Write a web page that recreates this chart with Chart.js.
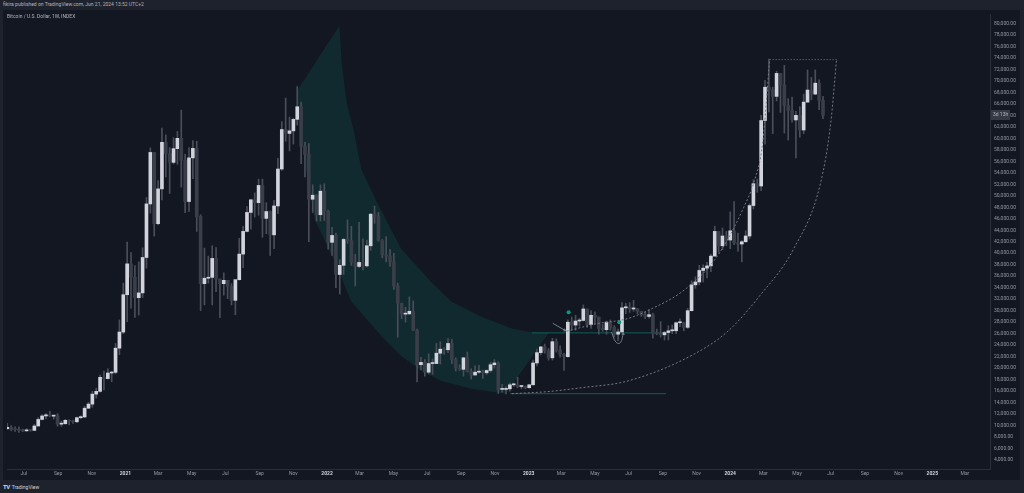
<!DOCTYPE html>
<html>
<head>
<meta charset="utf-8">
<script src="https://cdn.jsdelivr.net/npm/chart.js@4.4.1/dist/chart.umd.min.js"></script>
<style>
  html, body { margin: 0; padding: 0; width: 1024px; height: 493px; overflow: hidden; background: #1e222d; font-family: Roboto, 'Liberation Sans', sans-serif; }
  #head { position: absolute; left: 3px; top: 1px; font-size: 5px; line-height: 7px; color: #b2b5be; white-space: nowrap; }
  #panel { position: absolute; left: 3px; top: 10px; width: 1017px; height: 470px; background: #131722; }
  #title { position: absolute; left: 7px; top: 13px; font-size: 5px; line-height: 7px; color: #b2b5be; white-space: nowrap; z-index: 2; }
  #foot { position: absolute; left: 3px; top: 483px; font-size: 5px; line-height: 7px; color: #d1d4dc; white-space: nowrap; }
  #foot b { font-size: 6px; letter-spacing: -0.5px; margin-right: 2px; }
  canvas { position: absolute; left: 0; top: 0; }
</style>
</head>
<body>
<div id="head">fikira published on TradingView.com, Jun 21, 2024 13:52 UTC+2</div>
<div id="panel"><canvas id="btc" width="1017" height="470"></canvas></div>
<div id="title">Bitcoin / U.S. Dollar, 1W, INDEX</div>
<div id="foot"><b>TV</b>TradingView</div>
<script>
// weekly candles, first one = week of 2020-06-01
const firstWeek = '2020-06-01'

const opens = [
  9450, 9700, 9350, 9300, 9180, 9080, 9250, 9170, 9930, 11070,
  11680, 11870, 11650, 11700, 10250, 10330, 10920, 10770, 10670, 11380,
  11500, 13030, 13740, 15480, 15960, 18400, 18180, 19150, 19270, 23480,
  26280, 32780, 38150, 35830, 32260, 33100, 39260, 48580, 57540, 45140,
  51200, 59300, 57350, 55820, 58200, 60000, 56200, 49000, 56600, 58250,
  46400, 34700, 35650, 35800, 39100, 35500, 34700, 35290, 34250, 31800,
  35400, 39850, 43800, 47100, 49300, 48800, 51800, 46060, 47260, 43200,
  48230, 54660, 61530, 60850, 61300, 63300, 65500, 58600, 57200, 49400,
  50100, 46700, 50800, 47300, 41900, 43100, 36300, 37900, 42400, 42200,
  38400, 37700, 38400, 37800, 41300, 46800, 46400, 42200, 39700, 39500,
  38500, 34300, 31300, 29400, 29450, 29900, 26600, 20600, 21000, 19300,
  20800, 20800, 22600, 23300, 23200, 24300, 21500, 20000, 19800, 21800,
  19400, 18800, 19300, 19400, 19200, 19600, 20600, 20900, 16300, 16300,
  16400, 17100, 17100, 16800, 16800, 16600, 17100, 20900, 22700, 23700,
  23000, 21800, 24600, 23100, 22400, 22000, 28000, 27500, 28200, 28300,
  30300, 27600, 29200, 28900, 26900, 26700, 28000, 27100, 25900, 26300,
  30500, 30600, 30300, 30300, 29900, 29300, 29000, 29300, 26100, 26000,
  25800, 26200, 26500, 26500, 27900, 27900, 27100, 30000, 34500, 35000,
  37000, 37400, 37800, 39500, 43800, 41300, 43000, 42300, 43900, 41800,
  41600, 42000, 43000, 48300, 52100, 51700, 63100, 68900, 68400, 67300,
  71300, 69300, 65700, 64900, 63200, 64000, 61450, 66300, 68400, 67700,
  69600, 66600
]
const highs = [
  10380, 9990, 9800, 9780, 9400, 9450, 9350, 10200, 11400, 11900,
  12100, 12480, 11800, 12090, 10800, 11100, 10990, 10950, 11490, 11720,
  13350, 14090, 15970, 16500, 18800, 19480, 19900, 19420, 24300, 28400,
  34800, 41950, 40100, 37850, 38500, 40950, 49700, 58350, 57540, 52640,
  61800, 60600, 58400, 60100, 61200, 64900, 57200, 58400, 59600, 59500,
  46700, 40900, 39500, 41300, 41000, 35500, 36600, 35290, 34700, 35400,
  42600, 44700, 48100, 49400, 50500, 52900, 52900, 48800, 47350, 49200,
  56500, 62900, 67000, 63700, 63500, 69000, 66300, 59300, 59100, 51900,
  50200, 51900, 52100, 47500, 44500, 43500, 38900, 42600, 45800, 44700,
  39800, 45400, 42500, 42300, 46900, 48200, 47100, 42400, 42900, 40700,
  40000, 34800, 31300, 30600, 32400, 31700, 26800, 21900, 21500, 22500,
  21600, 24300, 24600, 23600, 25200, 25000, 21800, 20600, 21900, 22800,
  19900, 20400, 20500, 19700, 19700, 21000, 21500, 21100, 17200, 16800,
  17400, 17400, 18400, 17000, 16900, 17200, 21400, 23300, 23800, 24200,
  23400, 25200, 25100, 23900, 22600, 28400, 28900, 29200, 28700, 31000,
  30300, 30000, 29800, 28900, 27600, 28200, 28400, 27400, 26800, 31400,
  31300, 31400, 31800, 30400, 29900, 29700, 30200, 29600, 26800, 28100,
  26400, 27400, 27500, 28000, 28600, 28000, 30400, 35200, 35900, 37900,
  38000, 38400, 39800, 44700, 43800, 44400, 43800, 47200, 49000, 43500,
  42200, 43900, 48600, 52800, 52900, 64000, 70100, 73800, 68900, 71700,
  71300, 72700, 66900, 67200, 64700, 65500, 67700, 71900, 70600, 71900,
  70200, 67300
]
const lows = [
  9400, 9100, 9000, 8830, 8950, 9050, 9020, 9130, 9930, 11000,
  11150, 11550, 11150, 9880, 9880, 10230, 10140, 10370, 10530, 11200,
  11400, 12960, 13200, 14800, 15800, 16200, 18100, 17620, 19000, 22350,
  26000, 28100, 30420, 28850, 29240, 32300, 37400, 47000, 43000, 44950,
  49300, 53270, 50400, 55550, 55500, 51500, 47050, 47300, 53000, 43800,
  30000, 31000, 34800, 31000, 33300, 28800, 32700, 32100, 31000, 29300,
  35300, 37500, 43700, 44200, 46300, 46600, 42800, 43400, 39600, 40800,
  46900, 54400, 59500, 57800, 59000, 62300, 55600, 53300, 42000, 47100,
  45600, 45600, 45700, 40700, 39600, 34000, 32900, 36300, 41700, 37900,
  34300, 37500, 37100, 37600, 40500, 45200, 42100, 39200, 38500, 37700,
  33700, 25400, 28600, 28000, 29300, 26500, 17600, 19700, 18600, 19000,
  18900, 20800, 20700, 22400, 22700, 20800, 19500, 19600, 18600, 19300,
  18100, 18800, 19100, 18200, 18900, 19300, 20000, 15600, 15800, 15500,
  16000, 16800, 16600, 16400, 16400, 16500, 17100, 20400, 22300, 22600,
  21400, 21400, 22800, 21900, 19600, 21900, 26600, 26600, 27300, 28200,
  27100, 26900, 27700, 25900, 26400, 25900, 26600, 25400, 24800, 26300,
  29500, 29700, 29900, 29500, 29000, 28600, 28700, 25200, 25800, 25400,
  24900, 24900, 26000, 26000, 27200, 26500, 26900, 29900, 33900, 34500,
  35000, 35700, 36800, 39500, 40200, 40600, 41300, 40800, 41500, 40300,
  38500, 41900, 42500, 47700, 50600, 50900, 59000, 64600, 60800, 66500,
  64500, 60900, 59700, 62800, 56600, 60200, 60800, 66300, 66700, 67600,
  65000, 63400
]
const closes = [
  9700, 9350, 9300, 9180, 9080, 9250, 9170, 9930, 11070, 11680,
  11870, 11650, 11700, 10250, 10330, 10920, 10770, 10670, 11380, 11500,
  13030, 13740, 15480, 15960, 18400, 18180, 19150, 19270, 23480, 26280,
  32780, 38150, 35830, 32260, 33100, 39260, 48580, 57540, 45140, 51200,
  59300, 57350, 55820, 58200, 60000, 56200, 49000, 56600, 58250, 46400,
  34700, 35650, 35800, 39100, 35500, 34700, 35290, 34250, 31800, 35400,
  39850, 43800, 47100, 49300, 48800, 51800, 46060, 47260, 43200, 48230,
  54660, 61530, 60850, 61300, 63300, 65500, 58600, 57200, 49400, 50100,
  46700, 50800, 47300, 41900, 43100, 36300, 37900, 42400, 42200, 38400,
  37700, 38400, 37800, 41300, 46800, 46400, 42200, 39700, 39500, 38500,
  34300, 31300, 29400, 29450, 29900, 26600, 20600, 21000, 19300, 20800,
  20800, 22600, 23300, 23200, 24300, 21500, 20000, 19800, 21800, 19400,
  18800, 19300, 19400, 19200, 19600, 20600, 20900, 16300, 16300, 16400,
  17100, 17100, 16800, 16800, 16600, 17100, 20900, 22700, 23700, 23000,
  21800, 24600, 23100, 22400, 22000, 28000, 27500, 28200, 28300, 30300,
  27600, 29200, 28900, 26900, 26700, 28000, 27100, 25900, 26300, 30500,
  30600, 30300, 30300, 29900, 29300, 29000, 29300, 26100, 26000, 25800,
  26200, 26500, 26500, 27900, 27900, 27100, 30000, 34500, 35000, 37000,
  37400, 37800, 39500, 43800, 41300, 43000, 42300, 43900, 41800, 41600,
  42000, 43000, 48300, 52100, 51700, 63100, 68900, 68400, 67300, 71300,
  69300, 65700, 64900, 63200, 64000, 61450, 66300, 68400, 67700, 69600,
  66600, 64000
]

const tickDates = [
  '2020-07-01', '2020-09-01', '2020-11-01', '2021-01-01', '2021-03-01', '2021-05-01',
  '2021-07-01', '2021-09-01', '2021-11-01', '2022-01-01', '2022-03-01', '2022-05-01',
  '2022-07-01', '2022-09-01', '2022-11-01', '2023-01-01', '2023-03-01', '2023-05-01',
  '2023-07-01', '2023-09-01', '2023-11-01', '2024-01-01', '2024-03-01', '2024-05-01',
  '2024-07-01', '2024-09-01', '2024-11-01', '2025-01-01', '2025-03-01'
]
const tickLabels = [
  'Jul', 'Sep', 'Nov', '2021', 'Mar', 'May', 'Jul', 'Sep', 'Nov', '2022', 'Mar', 'May',
  'Jul', 'Sep', 'Nov', '2023', 'Mar', 'May', 'Jul', 'Sep', 'Nov', '2024', 'Mar', 'May',
  'Jul', 'Sep', 'Nov', '2025', 'Mar'
]
const priceTicks = [
  4000, 6000, 8000, 10000, 12000, 14000, 16000, 18000, 20000, 22000,
  24000, 26000, 28000, 30000, 32000, 34000, 36000, 38000, 40000, 42000,
  44000, 46000, 48000, 50000, 52000, 54000, 56000, 58000, 60000, 62000,
  64000, 66000, 68000, 70000, 72000, 74000, 76000, 78000, 80000
]

// drawings, in [week, price]
const bandShape = [
  [85.9, 79600], [86.5, 73000], [87.8, 66100], [89.6, 61450], [91.6, 54550],
  [96.0, 48350], [101.9, 40750], [109.6, 35050], [114.8, 31600], [122.5, 29000],
  [130.3, 26950], [135.4, 26250], [140.0, 26100], [129.0, 15560],
  [120.0, 16420], [112.2, 17800], [107.1, 19530], [101.9, 22120], [96.8, 25570],
  [89.0, 31600], [83.9, 39700], [79.5, 45900], [77.4, 54000], [76.2, 59700],
  [74.9, 68200], [85.9, 79600]
]
const outerArc = [
  [130.5, 15560], [139.5, 15900], [148.5, 16590], [160.7, 17800], [177.7, 22460],
  [186.4, 26430], [194.9, 32810], [203.4, 40750], [210.4, 52310], [213.0, 62660],
  [214.5, 73700]
]
const innerArc = [
  [144.7, 26430], [151.9, 27650], [160.7, 28670], [167.4, 30570], [173.5, 32810],
  [177.7, 35060], [182.0, 37990], [186.4, 42480], [190.5, 48000], [193.1, 52310],
  [195.4, 59210], [197.2, 73700]
]
const topLine = [[197.2, 73700], [214.5, 73700]]
const rangeTop = [[135.7, 26140], [169.7, 26140]]
const rangeLow = [[130.0, 15560], [170.4, 15560]]
const signalDots = [[145.2, 29710], [158.3, 27990]]
const arrowA = [[141.1, 27810], [144.2, 26600]]
const arrowB = [[156.3, 26300], [157.0, 25000], [158.0, 24300], [158.9, 24800], [159.3, 26000]]
const countdown = '3d 13h'

const FONT = 'Roboto, "Liberation Sans", sans-serif'
const UP = '#d1d4dc'
const DOWN = '#3a3e49'
const WICK = '#4a4e59'
const TEAL = '#089981'
const GREY = '#787b86'

const weekOf = d => (Date.parse(d) - Date.parse(firstWeek)) / (7 * 864e5)
const tickWeeks = tickDates.map(weekOf)
const pts = arr => arr.map(p => ({ x: p[0], y: p[1] }))
const noPad = s => {
  s.paddingLeft = 0
  s.paddingRight = 0
  s.paddingTop = 0
  s.paddingBottom = 0
}

const isUp = opens.map((o, i) => closes[i] >= o)
const wickData = opens.map((o, i) => ({ x: i, y: [lows[i], highs[i]] }))
const bodyData = opens.map((o, i) => ({ x: i, y: [Math.min(o, closes[i]), Math.max(o, closes[i])] }))

const countdownBox = {
  id: 'countdownBox',
  afterDraw(chart) {
    const c = chart.ctx
    const y = Math.round(chart.scales.y.getPixelForValue(closes[closes.length - 1]))
    const x = chart.scales.y.left + 1
    c.save()
    c.fillStyle = '#363a45'
    c.fillRect(x, y - 5, 19, 10)
    c.fillStyle = '#b2b5be'
    c.font = '5px ' + FONT
    c.textBaseline = 'middle'
    c.fillText(countdown, x + 2, y)
    c.restore()
  },
}

new Chart(document.getElementById('btc'), {
  type: 'bar',
  data: {
    datasets: [
      {
        type: 'line',
        data: pts(signalDots),
        showLine: false,
        pointRadius: 2,
        pointBackgroundColor: TEAL,
        pointBorderWidth: 0,
        order: 1,
      },
      {
        type: 'line',
        data: pts(arrowA),
        borderColor: GREY,
        borderWidth: 1,
        pointRadius: [0, 2],
        pointStyle: 'triangle',
        rotation: [0, 120],
        pointBackgroundColor: GREY,
        pointBorderWidth: 0,
        order: 2,
      },
      {
        type: 'line',
        data: pts(arrowB),
        borderColor: GREY,
        borderWidth: 1,
        cubicInterpolationMode: 'monotone',
        pointRadius: [0, 0, 0, 0, 2],
        pointStyle: 'triangle',
        pointBackgroundColor: GREY,
        pointBorderWidth: 0,
        order: 2,
      },
      {
        type: 'line',
        data: pts(outerArc),
        borderColor: GREY,
        borderWidth: 1,
        borderDash: [2, 2],
        cubicInterpolationMode: 'monotone',
        pointRadius: 0,
        order: 3,
      },
      {
        type: 'line',
        data: pts(innerArc),
        borderColor: GREY,
        borderWidth: 1,
        borderDash: [2, 2],
        cubicInterpolationMode: 'monotone',
        pointRadius: 0,
        order: 3,
      },
      {
        type: 'line',
        data: pts(topLine),
        borderColor: GREY,
        borderWidth: 1,
        borderDash: [1, 2],
        pointRadius: 0,
        order: 3,
      },
      {
        // bodies
        data: bodyData,
        grouped: false,
        barThickness: 3,
        minBarLength: 1,
        borderWidth: 0,
        backgroundColor: c => (isUp[c.dataIndex] ? UP : DOWN),
        order: 4,
      },
      {
        // wicks
        data: wickData,
        grouped: false,
        barThickness: 1,
        minBarLength: 1,
        borderWidth: 0,
        backgroundColor: WICK,
        order: 5,
      },
      {
        type: 'line',
        data: pts(rangeTop),
        borderColor: 'rgba(8,153,129,0.55)',
        borderWidth: 1,
        pointRadius: 0,
        order: 6,
      },
      {
        type: 'line',
        data: pts(rangeLow),
        borderColor: 'rgba(8,153,129,0.55)',
        borderWidth: 1,
        pointRadius: 0,
        order: 6,
      },
      {
        type: 'line',
        data: pts(bandShape),
        borderWidth: 0,
        tension: 0,
        fill: 'shape',
        backgroundColor: 'rgba(8,153,129,0.15)',
        pointRadius: 0,
        order: 10,
      },
    ],
  },
  options: {
    responsive: false,
    animation: false,
    layout: { padding: 0 },
    scales: {
      x: {
        type: 'linear',
        offset: false,
        min: -0.08,
        max: 254.2,
        afterBuildTicks: s => {
          s.ticks = tickWeeks.map(v => ({ value: v }))
        },
        afterFit: s => {
          s.height = 11
          noPad(s)
        },
        grid: { display: false, drawTicks: false, offset: false },
        border: { display: true, color: '#2a2e39' },
        ticks: {
          autoSkip: false,
          maxRotation: 0,
          padding: 2,
          callback: (v, i) => tickLabels[i],
          color: c => (/^\d{4}$/.test(tickLabels[c.index]) ? '#d1d4dc' : '#9598a1'),
          font: c => ({
            size: 5,
            family: FONT,
            weight: /^\d{4}$/.test(tickLabels[c.index]) ? 'bold' : 'normal',
          }),
        },
      },
      y: {
        type: 'linear',
        position: 'right',
        min: 2447,
        max: 81639,
        afterBuildTicks: s => {
          s.ticks = priceTicks.map(v => ({ value: v }))
        },
        afterFit: s => {
          s.width = 30
          noPad(s)
        },
        grid: { display: false, drawTicks: false },
        border: { display: true, color: '#2a2e39' },
        ticks: {
          padding: 4,
          color: '#9598a1',
          font: { size: 5, family: FONT },
          callback: v => v.toLocaleString('en-US', { minimumFractionDigits: 2, maximumFractionDigits: 2 }),
        },
      },
    },
    plugins: {
      legend: { display: false },
      tooltip: { enabled: false },
    },
  },
  plugins: [countdownBox],
})
</script>
</body>
</html>
